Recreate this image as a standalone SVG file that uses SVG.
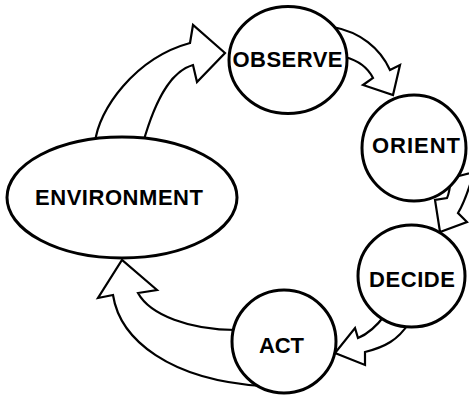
<svg xmlns="http://www.w3.org/2000/svg" width="469" height="396" viewBox="0 0 469 396">
  <style>
    .arrow { fill: #fff; stroke: #000; stroke-width: 2.2; stroke-linejoin: miter; }
    .node { fill: #fff; stroke: #000; stroke-width: 3; }
    .label { font-family: "Liberation Sans", Arial, sans-serif; font-weight: bold; font-size: 22px; fill: #000; text-anchor: middle; }
  </style>
  <rect width="469" height="396" fill="#fff"/>

  <!-- curved block arrows of the loop -->
  <g id="connectors">
    <!-- environment to observe -->
    <path class="arrow" d="M95,143 C98,110 135,58 190,43 L193,25 L225,53 L197,82 L193,65 C175,70 158,90 143,143 Z"/>
    <!-- observe to orient -->
    <path class="arrow" d="M333,27 C360,32 380,48 390,70 L400,65 L393,95 L363,85 L373,78 C368,68 360,61 345,57 Z"/>
    <!-- orient to decide -->
    <path class="arrow" d="M451,178 C450,188 449,194 447,198 L435,200 L440,232 L467,222 L458,213 C463,205 468,192 474,172 Z"/>
    <!-- decide to act -->
    <path class="arrow" d="M385,315 C376,327 368,334 358,338 L355,328 L335,353 L365,365 L365,352 C385,347 398,340 409,323 Z"/>
    <!-- act to environment -->
    <path class="arrow" d="M236,330 C190,330 150,315 138,293 L157,290 L122,260 L98,298 L113,295 C120,340 170,380 262,386 Z"/>
  </g>

  <g id="environment">
    <ellipse class="node" cx="122" cy="197.5" rx="115" ry="60.5"/>
    <text class="label" x="119" y="205" textLength="168" lengthAdjust="spacing">ENVIRONMENT</text>
  </g>
  <g id="observe">
    <ellipse class="node" cx="288" cy="60" rx="59" ry="53.5"/>
    <text class="label" x="287.5" y="67" textLength="110" lengthAdjust="spacing">OBSERVE</text>
  </g>
  <g id="orient">
    <ellipse class="node" cx="414" cy="148" rx="52" ry="53"/>
    <text class="label" x="416" y="153" textLength="88" lengthAdjust="spacing">ORIENT</text>
  </g>
  <g id="decide">
    <ellipse class="node" cx="411.5" cy="276" rx="53.5" ry="51"/>
    <text class="label" x="412" y="287" textLength="86" lengthAdjust="spacing">DECIDE</text>
  </g>
  <g id="act">
    <ellipse class="node" cx="284" cy="341.5" rx="52" ry="51.5"/>
    <text class="label" x="281.5" y="353" textLength="45" lengthAdjust="spacing">ACT</text>
  </g>
</svg>
